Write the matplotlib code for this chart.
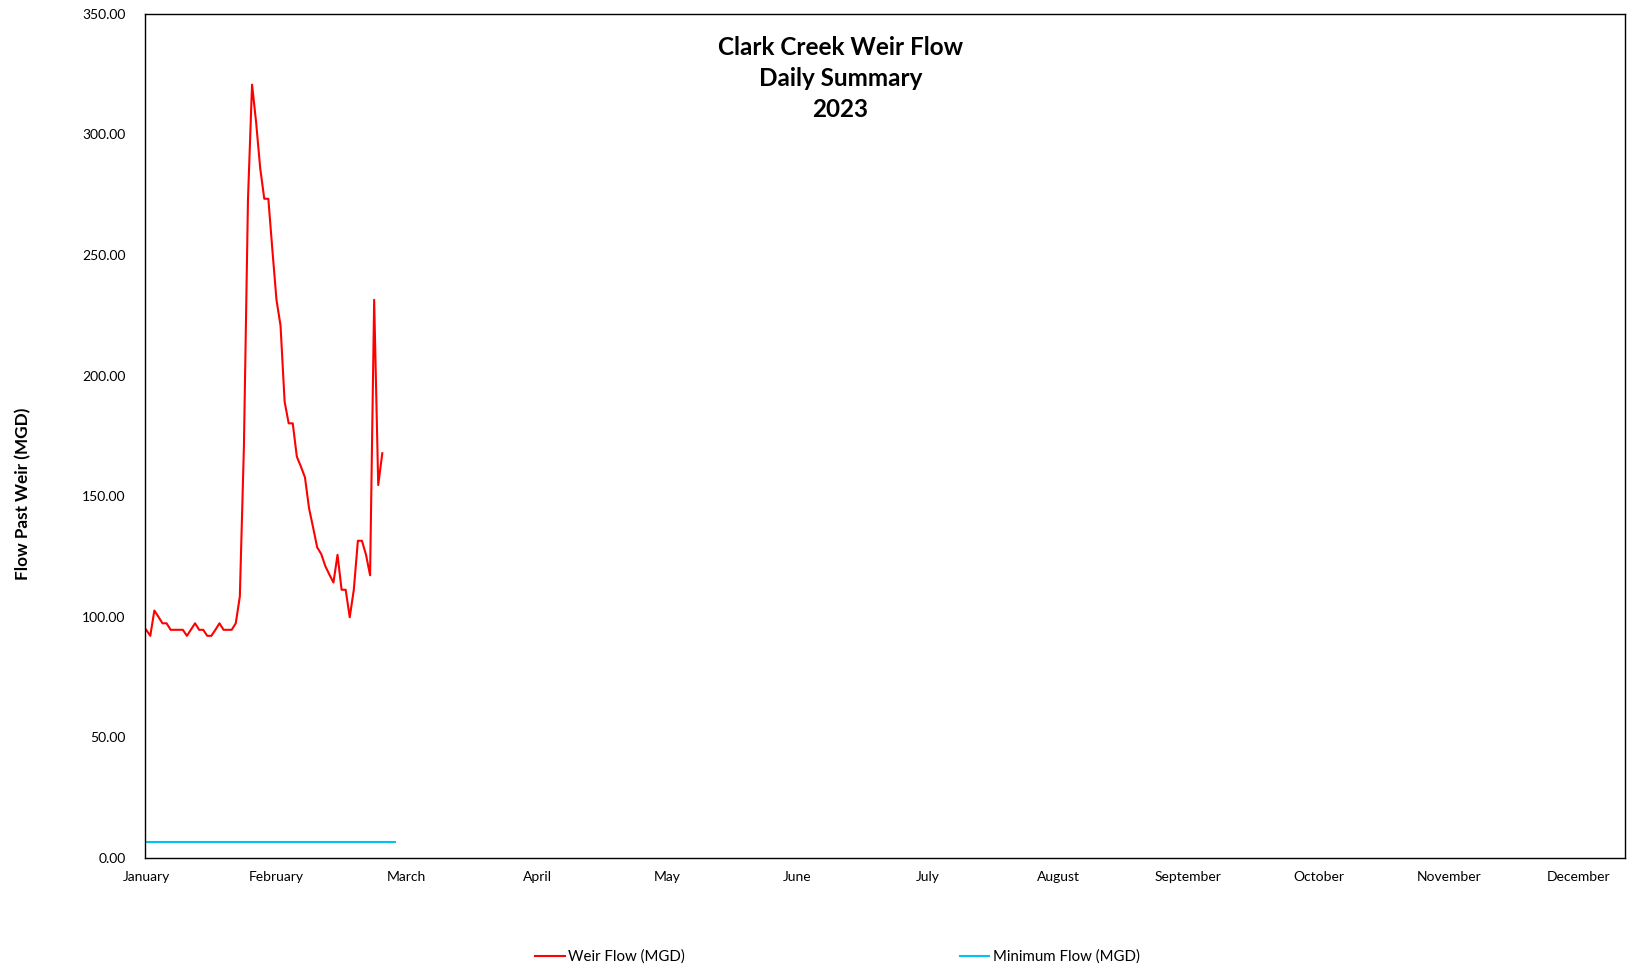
import numpy as np
import matplotlib
matplotlib.use("Agg")
import matplotlib.pyplot as plt
from matplotlib.ticker import FormatStrFormatter

plt.rcParams['font.family'] = ['Lato', 'DejaVu Sans']

# daily weir flow, Jan 1 .. Feb 28 (MGD)
weir_flow = [94.6, 92.1, 102.6, 100.0, 97.3, 97.3, 94.6, 94.6, 94.6, 94.6,
             92.1, 94.7, 97.3, 94.6, 94.6, 92.1, 92.1, 94.6, 97.3, 94.6,
             94.6, 94.6, 97.3, 108.4, 170.4, 273.0, 320.6, 305.0, 286.0, 273.3,
             273.3, 252.0, 231.4, 220.7, 189.2, 180.2, 180.2, 166.4, 162.3, 157.8,
             145.0, 137.0, 128.8, 126.0, 121.0, 117.5, 114.2, 125.7, 111.2, 111.2,
             99.8, 111.2, 131.5, 131.5, 125.7, 117.2, 231.4, 154.6, 167.8]
min_flow_value = 6.46
min_flow_days = 62
months = ["January", "February", "March", "April", "May", "June", "July",
          "August", "September", "October", "November", "December"]
tick_step = 32  # days between month labels

weir_days = np.arange(len(weir_flow))
min_days = np.arange(min_flow_days)
min_flow = np.full(min_flow_days, min_flow_value)

fig = plt.figure(figsize=(16.31, 9.66), dpi=100)
ax = fig.add_axes([0.0889, 0.1118, 0.9074, 0.874])

ax.plot(weir_days, weir_flow, color="#FF0000", linewidth=1.5, label="Weir Flow (MGD)")
ax.plot(min_days, min_flow, color="#00C2F5", linewidth=1.5, label="Minimum Flow (MGD)")

ax.set_xlim(-0.3, 363.3)
ax.set_ylim(0, 350)
ax.set_xticks(np.arange(len(months)) * tick_step)
ax.set_xticklabels(months)
ax.set_yticks(np.arange(0, 351, 50))
ax.yaxis.set_major_formatter(FormatStrFormatter('%.2f'))
ax.tick_params(axis='y', length=0, pad=14, labelsize=10)
ax.tick_params(axis='x', length=0, pad=9.5, labelsize=10)
for s in ax.spines.values():
    s.set_color('black')
    s.set_linewidth(1.0)

ax.set_ylabel("Flow Past Weir (MGD)", fontsize=12.3, fontweight='bold')
ax.yaxis.set_label_coords(-0.0768, 0.431)

fig.text(0.5153, 0.9625, "Clark Creek Weir Flow\nDaily Summary\n2023",
         ha='center', va='top', fontsize=17.5, fontweight='bold', linespacing=1.42)

fig.legend(loc='center', bbox_to_anchor=(0.5135, 0.0095), ncol=2, frameon=False,
           fontsize=10.8, handlelength=1.95, handletextpad=0.25, columnspacing=18.3,
           borderpad=0.1)

fig.savefig("out.png", dpi=100)
